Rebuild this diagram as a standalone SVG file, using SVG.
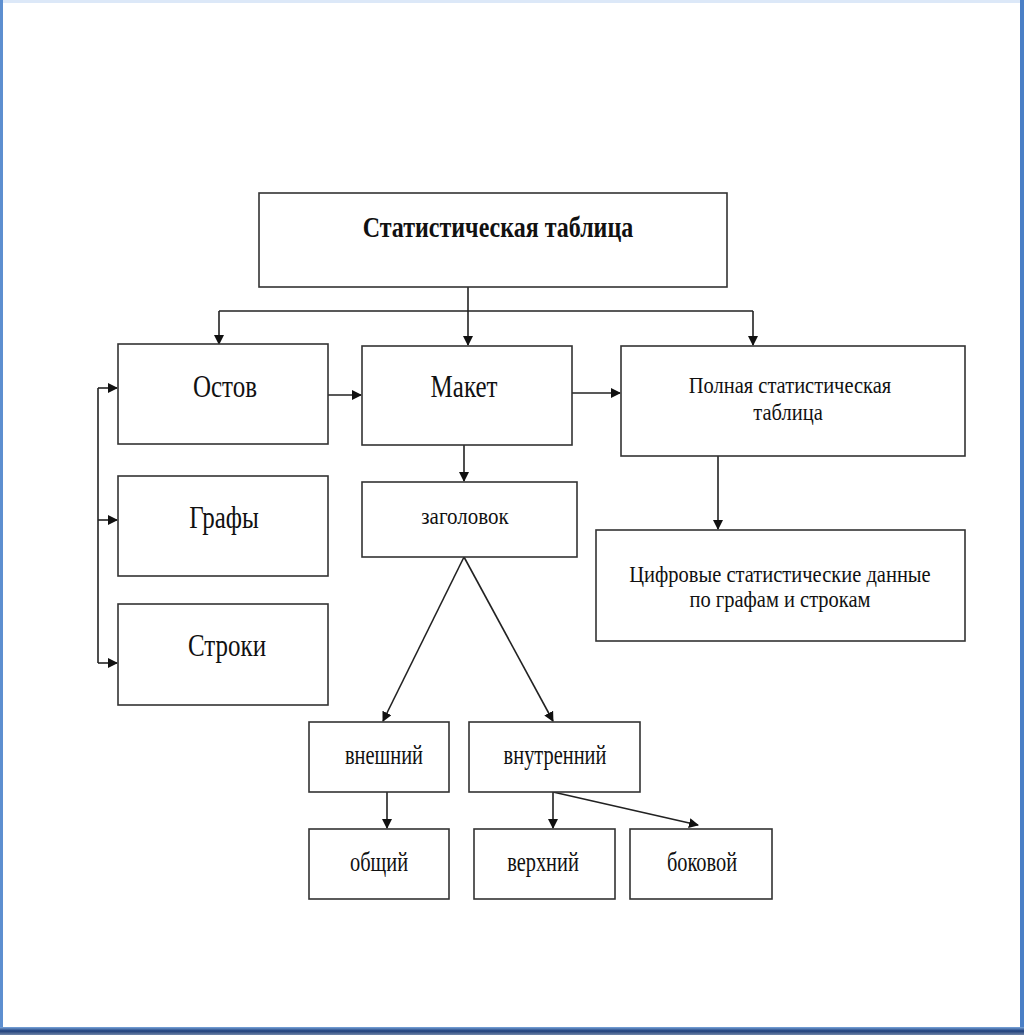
<svg xmlns="http://www.w3.org/2000/svg" width="1024" height="1035" viewBox="0 0 1024 1035">
<defs>
<marker id="ah" markerWidth="10" markerHeight="10" refX="9" refY="5" orient="auto" markerUnits="userSpaceOnUse">
<path d="M0,0 L10,5 L0,10 z" fill="#111"/>
</marker>
<linearGradient id="bot" x1="0" y1="0" x2="0" y2="1">
<stop offset="0" stop-color="#7aa6dc"/>
<stop offset="0.5" stop-color="#1f3f7a"/>
<stop offset="1" stop-color="#6f85a8"/>
</linearGradient>
</defs>
<style>
.box{fill:#fff;stroke:#333;stroke-width:1.6}
.t{font-family:"Liberation Serif","Times New Roman",serif;fill:#111;text-anchor:middle}
.big{font-size:25px}
.mid{font-size:20.5px}
.sm{font-size:20.4px}
.c{fill:none;stroke:#222;stroke-width:1.6}
</style>
<rect x="0" y="0" width="1024" height="1035" fill="#fff"/>
<rect x="0" y="0" width="1024" height="3" fill="#dce8f8"/>
<rect x="0" y="0" width="3" height="1030" fill="#5d8fd0"/>
<rect x="1020" y="0" width="4" height="1030" fill="#4a7fc6"/>
<rect x="0" y="1027" width="1024" height="8" fill="url(#bot)"/>

<g id="connectors">
<line class="c" x1="468" y1="287" x2="468" y2="345" marker-end="url(#ah)"/>
<line class="c" x1="219" y1="311" x2="753" y2="311"/>
<line class="c" x1="219" y1="311" x2="219" y2="344" marker-end="url(#ah)"/>
<line class="c" x1="753" y1="311" x2="753" y2="345" marker-end="url(#ah)"/>
<line class="c" x1="328" y1="395" x2="361" y2="395" marker-end="url(#ah)"/>
<line class="c" x1="572" y1="393" x2="620" y2="393" marker-end="url(#ah)"/>
<line class="c" x1="98" y1="388" x2="98" y2="663"/>
<line class="c" x1="98" y1="388" x2="117" y2="388" marker-end="url(#ah)"/>
<line class="c" x1="98" y1="520" x2="117" y2="520" marker-end="url(#ah)"/>
<line class="c" x1="98" y1="663" x2="117" y2="663" marker-end="url(#ah)"/>
<line class="c" x1="464" y1="445" x2="464" y2="481" marker-end="url(#ah)"/>
<line class="c" x1="464" y1="557" x2="383" y2="721" marker-end="url(#ah)"/>
<line class="c" x1="464" y1="557" x2="553" y2="721" marker-end="url(#ah)"/>
<line class="c" x1="387" y1="792" x2="387" y2="828" marker-end="url(#ah)"/>
<line class="c" x1="553" y1="792" x2="553" y2="828" marker-end="url(#ah)"/>
<line class="c" x1="553" y1="792" x2="698" y2="825" marker-end="url(#ah)"/>
<line class="c" x1="718" y1="456" x2="718" y2="529" marker-end="url(#ah)"/>
</g>

<g id="n-stat"><rect class="box" x="259" y="193" width="468" height="94"/><text class="t" font-size="24" font-weight="bold" transform="translate(498,237) scale(1,1.2)">Статистическая таблица</text></g>
<g id="n-ostov"><rect class="box" x="118" y="344" width="210" height="100"/><text class="t big" transform="translate(225,397) scale(1,1.25)">Остов</text></g>
<g id="n-maket"><rect class="box" x="362" y="346" width="210" height="99"/><text class="t big" transform="translate(464,397) scale(1,1.25)">Макет</text></g>
<g id="n-polnaya"><rect class="box" x="621" y="346" width="344" height="110"/><text class="t mid" transform="translate(790,393) scale(1,1.15)">Полная статистическая</text><text class="t mid" transform="translate(788,420) scale(1,1.15)">таблица</text></g>
<g id="n-grafy"><rect class="box" x="118" y="476" width="210" height="100"/><text class="t big" transform="translate(224,528) scale(1,1.25)">Графы</text></g>
<g id="n-stroki"><rect class="box" x="118" y="604" width="210" height="101"/><text class="t big" transform="translate(227,656) scale(1,1.25)">Строки</text></g>
<g id="n-zag"><rect class="box" x="362" y="482" width="215" height="75"/><text class="t" font-size="21" transform="translate(465,524) scale(1,1.1)">заголовок</text></g>
<g id="n-cifr"><rect class="box" x="596" y="530" width="369" height="111"/><text class="t mid" transform="translate(780,582) scale(1,1.15)">Цифровые статистические данные</text><text class="t mid" transform="translate(780,607) scale(1,1.15)">по графам и строкам</text></g>
<g id="n-vnesh"><rect class="box" x="309" y="722" width="140" height="70"/><text class="t sm" transform="translate(384,764) scale(1,1.3)">внешний</text></g>
<g id="n-vnutr"><rect class="box" x="469" y="722" width="171" height="70"/><text class="t sm" transform="translate(555,764) scale(1,1.3)">внутренний</text></g>
<g id="n-obsh"><rect class="box" x="309" y="829" width="140" height="70"/><text class="t sm" transform="translate(379,871) scale(1,1.3)">общий</text></g>
<g id="n-verh"><rect class="box" x="474" y="829" width="141" height="70"/><text class="t sm" transform="translate(543,871) scale(1,1.3)">верхний</text></g>
<g id="n-bok"><rect class="box" x="630" y="829" width="142" height="70"/><text class="t sm" transform="translate(702,871) scale(1,1.3)">боковой</text></g>
</svg>
